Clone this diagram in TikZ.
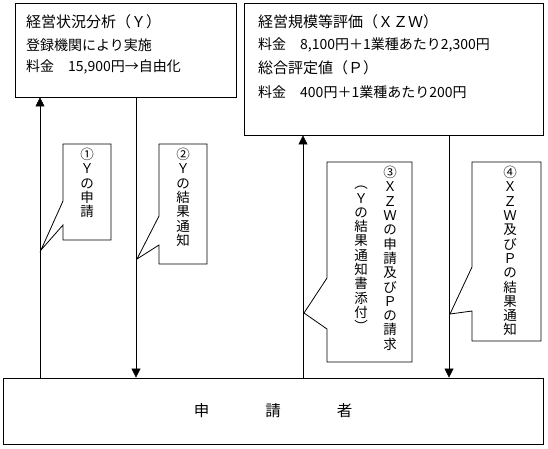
\documentclass[tikz,border=0pt]{standalone}
\usepackage{fontspec}
\setmainfont{Noto Sans CJK JP}
\usetikzlibrary{arrows.meta}
\tikzset{
  panel/.style={draw, line width=0.8pt, fill=white, inner sep=0pt},
  panelhead/.style={anchor=west, inner sep=0pt, font=\fontsize{15}{18}\selectfont},
  paneltext/.style={anchor=west, inner sep=0pt, font=\fontsize{14}{17}\selectfont},
  flowline/.style={line width=0.6pt},
  flowarrow/.style={flowline, -{Triangle[length=9pt,width=9pt]}},
  callbox/.style={draw, fill=white, line width=0.8pt},
  vtext/.style={anchor=north, inner sep=0pt, align=center, font=\fontsize{13.5}{14.3}\selectfont},
}

\begin{document}
\begin{tikzpicture}[x=1pt, y=-1pt]
  \useasboundingbox (0,0) rectangle (548,448);
  % boxes
  \node[panel, minimum width=221pt, minimum height=94pt] (ybox) at (125.5,50) {};
  \node[panel, minimum width=299pt, minimum height=132pt] (xzw) at (393.5,69) {};
  \node[panel, minimum width=540pt, minimum height=66pt] (app) at (273,411)
    {\fontsize{15.5}{18}\selectfont 申\hspace{56pt}請\hspace{56pt}者};
  \node[panelhead] (yhead) at (26,22) {経営状況分析（Ｙ）};
  \node[paneltext] (yorg) at (26,45) {登録機関により実施};
  \node[paneltext] (yfee) at (26,67) {料金　15,900円→自由化};
  \node[panelhead] (xhead) at (258,22) {経営規模等評価（ＸＺＷ）};
  \node[paneltext] (xfee) at (258,45) {料金　8,100円＋1業種あたり2,300円};
  \node[panelhead] (phead) at (258,68) {総合評定値（Ｐ）};
  \node[paneltext] (pfee) at (258,92) {料金　400円＋1業種あたり200円};
  % flows
  \coordinate (l1) at (40,0);
  \coordinate (l2) at (136,0);
  \coordinate (l3) at (303,0);
  \coordinate (l4) at (449,0);
  \draw[flowarrow] (app.north -| l1) -- (ybox.south -| l1);
  \draw[flowarrow] (ybox.south -| l2) -- (app.north -| l2);
  \draw[flowarrow] (app.north -| l3) -- (xzw.south -| l3);
  \draw[flowarrow] (xzw.south -| l4) -- (app.north -| l4);
  % callouts
  \draw[callbox] (63,144) -- (111,144) -- (111,240) -- (63,240) -- (63,225) -- (41,250) -- (63,201) -- cycle;
  \draw[callbox] (159,144) -- (207,144) -- (207,264) -- (159,264) -- (159,245) -- (137,259) -- (159,216) -- cycle;
  \draw[callbox] (327,162) -- (412,162) -- (412,362) -- (327,362) -- (327,329) -- (304,313) -- (327,278) -- cycle;
  \draw[callbox] (472,162) -- (541,162) -- (541,341) -- (472,341) -- (472,311) -- (450,314) -- (472,267) -- cycle;
  \node[vtext] (t1) at (87,148) {①\\Ｙ\\の\\申\\請};
  \node[vtext] (t2) at (183,148) {②\\Ｙ\\の\\結\\果\\通\\知};
  \node[vtext] (t3) at (390,166) {③\\Ｘ\\Ｚ\\Ｗ\\の\\申\\請\\及\\び\\Ｐ\\の\\請\\求};
  \node[vtext] (t3b) at (361,186) {︵\\Ｙ\\の\\結\\果\\通\\知\\書\\添\\付\\︶};
  \node[vtext] (t4) at (510,166) {④\\Ｘ\\Ｚ\\Ｗ\\及\\び\\Ｐ\\の\\結\\果\\通\\知};
\end{tikzpicture}
\end{document}
